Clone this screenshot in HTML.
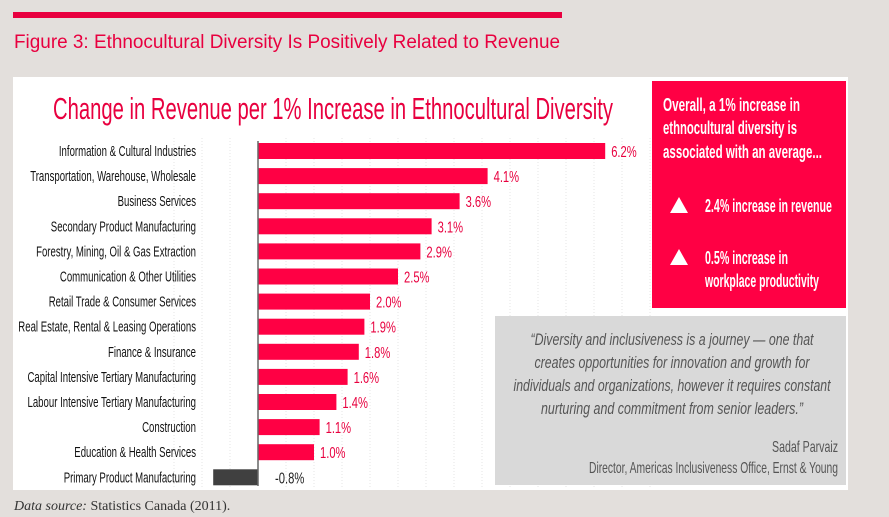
<!DOCTYPE html>
<html><head><meta charset="utf-8"><style>
body{margin:0;width:889px;height:517px;background:#e3dfdc;overflow:hidden}
svg{display:block}
.n{font-family:"Liberation Sans Narrow","Liberation Sans",sans-serif}
</style></head><body>
<svg id="c" width="889" height="517" xmlns="http://www.w3.org/2000/svg">
<rect x="13" y="12" width="549" height="6" fill="#e8003f"/>
<text x="14" y="48" font-family="Liberation Sans, sans-serif" font-size="19" fill="#e8003f" textLength="546" lengthAdjust="spacingAndGlyphs">Figure 3: Ethnocultural Diversity Is Positively Related to Revenue</text>
<rect x="13" y="77" width="835" height="413" fill="#fff"/>
<text class="n" x="53" y="119" font-size="31" fill="#e8003f" textLength="560" lengthAdjust="spacingAndGlyphs">Change in Revenue per 1% Increase in Ethnocultural Diversity</text>
<g id="grid"></g>
<g id="bars"></g>
<rect x="652" y="81" width="194" height="227" fill="#ff0044"/>
<g class="n" fill="#fff" font-size="18" font-weight="bold">
<text x="663" y="111" textLength="137" lengthAdjust="spacingAndGlyphs">Overall, a 1% increase in</text>
<text x="663" y="134" textLength="134" lengthAdjust="spacingAndGlyphs">ethnocultural diversity is</text>
<text x="663" y="158" textLength="159" lengthAdjust="spacingAndGlyphs">associated with an average...</text>
<text x="705" y="212" textLength="127" lengthAdjust="spacingAndGlyphs">2.4% increase in revenue</text>
<text x="705" y="264" textLength="83" lengthAdjust="spacingAndGlyphs">0.5% increase in</text>
<text x="705" y="287" textLength="114" lengthAdjust="spacingAndGlyphs">workplace productivity</text>
</g>
<polygon points="670,213 688,213 679,197" fill="#fff"/>
<polygon points="670,265 688,265 679,249" fill="#fff"/>
<rect x="495" y="316" width="351" height="169" fill="#d9d9d9"/>
<g class="n" fill="#555" font-size="17" font-style="italic" text-anchor="middle">
<text x="672" y="345" textLength="283" lengthAdjust="spacingAndGlyphs">“Diversity and inclusiveness is a journey — one that</text>
<text x="672" y="368" textLength="275" lengthAdjust="spacingAndGlyphs">creates opportunities for innovation and growth for</text>
<text x="672" y="391" textLength="317" lengthAdjust="spacingAndGlyphs">individuals and organizations, however it requires constant</text>
<text x="672" y="414" textLength="262" lengthAdjust="spacingAndGlyphs">nurturing and commitment from senior leaders.”</text>
</g>
<g class="n" fill="#555" font-size="16" text-anchor="end">
<text x="838" y="452" textLength="66" lengthAdjust="spacingAndGlyphs">Sadaf Parvaiz</text>
<text x="838" y="473" textLength="249" lengthAdjust="spacingAndGlyphs">Director, Americas Inclusiveness Office, Ernst &amp; Young</text>
</g>
<text x="14" y="510" font-family="Liberation Serif, serif" font-size="14" fill="#333"><tspan font-style="italic">Data source:</tspan> Statistics Canada (2011).</text>
</svg>
<script>
const categories=["Information & Cultural Industries","Transportation, Warehouse, Wholesale","Business Services","Secondary Product Manufacturing","Forestry, Mining, Oil & Gas Extraction","Communication & Other Utilities","Retail Trade & Consumer Services","Real Estate, Rental & Leasing Operations","Finance & Insurance","Capital Intensive Tertiary Manufacturing","Labour Intensive Tertiary Manufacturing","Construction","Education & Health Services","Primary Product Manufacturing"];
const values=[6.2,4.1,3.6,3.1,2.9,2.5,2.0,1.9,1.8,1.6,1.4,1.1,1.0,-0.8];
const labels=["6.2%","4.1%","3.6%","3.1%","2.9%","2.5%","2.0%","1.9%","1.8%","1.6%","1.4%","1.1%","1.0%","-0.8%"];
const gridTicks=[-1.5,-1,-0.5,0.5,1,1.5,2,2.5,3,3.5,4,4.5,5,5.5,6,6.5,7];
const NS="http://www.w3.org/2000/svg";
const x=v=>258+v*56;
const y=i=>151+i*25.1;
const bh=16;
function mk(t,a,p){const e=document.createElementNS(NS,t);for(const k in a)e.setAttribute(k,a[k]);p.appendChild(e);return e;}
function squeeze(t,f){const w=t.getComputedTextLength();t.setAttribute('textLength',(w*f).toFixed(1));t.setAttribute('lengthAdjust','spacingAndGlyphs');}
const grid=document.getElementById('grid'),bars=document.getElementById('bars');
gridTicks.forEach(t=>{
 const l=mk('line',{x1:x(t),x2:x(t),y1:138,y2:487,stroke:'#e6e6e6','stroke-dasharray':'1 2'},grid);
 
 
});
categories.forEach((c,i)=>{
 const v=values[i];
 const r=mk('rect',{x:Math.min(x(0),x(v)),y:y(i)-bh/2,width:Math.abs(x(v)-x(0)),height:bh,fill:v<0?'#404040':'#ff0044'},bars);
 
 
 const t=mk('text',{x:196,y:y(i)+5,'text-anchor':'end','font-size':15,fill:'#111',class:'n'},bars);
 t.textContent=c;
 squeeze(t,0.64);
 
 
 const vl=mk('text',{x:v<0?x(0)+17:x(v)+6,y:y(i)+6,'font-size':16,fill:v<0?'#222':'#e8003f',class:'n'},bars);
 vl.textContent=labels[i];
 squeeze(vl,0.7);
 
 
});
const ax=mk('line',{x1:x(0),x2:x(0),y1:141,y2:486,stroke:'#666','stroke-width':1.5},bars);


</script>
</body></html>
